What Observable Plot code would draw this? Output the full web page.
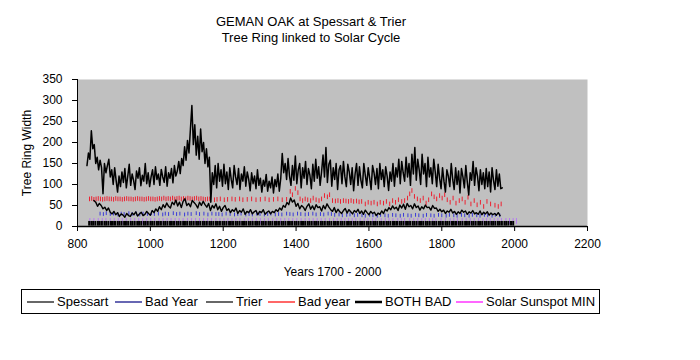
<!DOCTYPE html>
<html>
<head>
<meta charset="utf-8">
<script src="https://cdn.jsdelivr.net/npm/d3@7"></script>
<script src="https://cdn.jsdelivr.net/npm/@observablehq/plot@0.6"></script>
<style>
  html, body { margin: 0; padding: 0; background: #fff; }
  body { width: 700px; height: 360px; position: relative; overflow: hidden;
         font-family: Arial, "Liberation Sans", sans-serif; color: #000; }
  #title { position: absolute; left: 0; top: 14px; width: 622px; text-align: center;
           font-size: 13px; line-height: 16px; }
  #chart { position: absolute; left: 0; top: 0; }
  #legend { position: absolute; left: 21px; top: 289px; width: 577px; height: 23px;
            border: 1px solid #000; font-size: 13px; }
  .item { position: absolute; top: 0; height: 23px; display: flex; align-items: center; white-space: nowrap; }
  .item svg { margin-right: 3px; }
</style>
</head>
<body>
<div id="title">GEMAN OAK at Spessart &amp; Trier<br>Tree Ring linked to Solar Cycle</div>
<div id="chart"></div>
<div id="legend"></div>
<script>
// ---- data ----
const xTicks = [800, 1000, 1200, 1400, 1600, 1800, 2000, 2200];
const yTicks = [0, 50, 100, 150, 200, 250, 300, 350];

// Spessart ring width, one value every 4 years from 826
const spessartFirstYear = 826;
const spessartValues = [
  145,175,160,228,185,195,150,165,135,158,140,78,150,128,145,160,118,135,100,140,110,82,120,95,130,
  105,138,92,120,148,98,125,110,88,132,115,140,97,122,108,150,102,128,95,118,135,100,142,112,125,
  98,136,118,105,142,96,128,115,138,104,145,120,132,155,126,162,145,190,158,205,175,232,288,195,242,
  170,215,160,232,178,200,150,185,142,165,58,128,100,145,92,150,108,135,96,148,102,130,88,140,112,
  92,145,118,100,138,88,125,108,142,96,130,112,85,128,102,120,90,135,98,115,82,110,96,124,84,
  108,92,118,80,112,95,125,84,115,174,128,150,112,162,120,98,145,110,168,102,135,150,92,140,115,
  155,100,138,122,90,148,108,160,115,142,98,130,170,118,188,105,148,158,96,140,112,150,88,135,145,
  102,155,118,95,148,130,100,140,85,125,150,98,142,110,92,150,122,98,140,115,88,145,128,100,138,
  90,150,112,135,95,142,120,86,130,108,150,96,140,118,160,102,155,128,108,165,118,150,98,172,125,
  188,110,160,135,100,172,125,150,95,165,118,140,102,160,130,95,148,115,90,140,108,82,135,120,95,
  150,112,88,140,100,132,80,138,118,92,145,106,75,128,110,155,98,140,120,85,135,100,128,90,138,
  95,130,82,140,110,88,135,96,125,90,92
];

// Trier ring width, one value every 5 years from 845
const trierFirstYear = 845;
const trierValues = [
  62,58,48,55,50,42,46,38,44,34,30,36,28,33,24,30,27,22,31,26,
  24,32,28,35,25,30,34,26,29,36,31,27,38,33,42,36,47,40,52,45,
  56,48,44,58,52,63,49,58,45,60,66,50,55,47,62,57,52,44,58,50,
  60,52,46,55,38,50,44,54,40,48,36,45,50,38,42,33,40,36,44,31,
  38,34,42,29,36,33,40,30,35,38,28,36,33,40,29,34,37,30,36,33,
  40,36,44,39,50,46,57,52,68,58,63,48,55,42,50,46,38,48,54,41,
  49,40,52,45,47,37,50,42,54,46,40,36,45,33,41,35,31,38,43,32,
  40,35,30,38,34,41,31,37,29,39,33,28,36,31,34,26,32,29,37,31,
  41,37,45,40,49,42,46,38,51,44,53,41,55,47,50,42,54,45,49,39,
  47,42,51,45,46,39,50,43,44,36,41,35,39,31,37,34,41,32,36,29,
  35,31,39,34,37,29,35,32,38,30,33,29,37,28,34,30,35,27,32,28,
  31,27,33,26
];

// Bad year (Trier) markers: years and marker top value
const trierBadYears = [
  833,839,845,851,857,863,869,875,881,887,893,899,905,911,917,923,929,935,941,947,
  953,959,965,971,977,983,989,995,1001,1007,1013,1019,1025,1031,1037,1043,1049,1055,1061,1067,
  1073,1079,1085,1091,1097,1103,1109,1115,1121,1127,1133,1139,1145,1151,1157,1163,1176,1183,1192,1203,
  1212,1224,1233,1245,1254,1266,1278,1290,1302,1315,1326,1338,1350,1362,1374,
  1384,1390,1398,1405,1411,1418,1425,1432,1440,1447,1455,1463,1470,1478,1486,1492,1500,1508,1515,1522,
  1530,1537,1544,1551,1558,1566,1573,1580,1590,1598,1606,1614,1623,1631,1640,1648,1657,1665,1673,1681,
  1690,1698,1706,1712,1718,1725,1733,1741,1749,1757,1764,1772,1779,1786,1794,1801,1808,1815,1823,1831,
  1839,1848,1856,1864,1872,1880,1889,1897,1906,1915,1924,1934,1946,1955,1963
];
const trierBadTops = [
  70,71,69,70,71,70,69,70,71,70,70,69,71,70,70,69,70,71,70,70,
  69,70,71,70,70,69,70,71,70,70,69,70,71,70,72,70,71,70,72,70,
  71,72,70,71,70,72,71,70,71,72,70,71,70,69,70,70,68,69,70,68,
  69,70,69,70,68,69,70,68,69,70,68,69,70,68,69,
  88,80,95,85,70,66,70,68,66,72,68,66,70,78,75,80,66,65,66,64,
  66,65,64,66,64,65,63,64,58,62,60,62,58,62,60,64,58,66,62,68,
  64,66,72,82,90,76,70,66,72,60,68,82,75,70,78,72,80,68,62,72,
  60,66,70,62,74,58,66,56,62,52,64,58,55,52,58
];

// Bad Year (Spessart) markers
const spessartBadYears = [
  862,871,879,890,899,911,920,928,941,950,962,971,980,992,1003,1011,1022,1034,1041,1050,
  1063,1072,1081,1094,1103,1112,1126,1135,1147,1158,1169,1180,1188,1197,1208,1219,1231,1240,1249,1262,
  1271,1280,1292,1301,1313,1322,1331,1343,1352,1361,1374,1383,1392,1404,1413,1425,1434,1446,1455,1467,
  1476,1488,1497,1506,1518,1527,1539,1548,1560,1569,1581,1590,1602,1611,1623,1632,1644,1653,1665,1674,
  1686,1695,1707,1716,1728,1737,1749,1758,1770,1779,1791,1800,1812,1821,1833,1842,1854,1863,1875,1884,
  1896,1905,1917,1926,1938,1947,1959
];
const spessartBadTops = [
  34,33,35,33,34,32,34,33,35,33,34,32,34,33,35,33,34,32,34,33,
  35,33,34,32,34,33,35,33,34,32,34,33,33,32,34,33,32,33,34,32,
  33,32,34,33,32,33,34,32,33,32,34,33,32,34,33,32,33,34,32,33,
  32,34,33,31,32,30,31,32,30,31,30,29,31,30,29,31,30,29,31,30,
  29,31,30,29,31,30,29,31,30,29,31,30,29,31,30,29,31,30,29,31,
  30,29,31,30,29,31,30
];

// BOTH BAD years
const bothBadYears = [
  832,838,843,849,856,861,867,874,879,885,892,897,903,910,915,921,928,933,939,946,
  951,957,964,969,975,982,987,993,1000,1005,1011,1018,1023,1029,1036,1041,1047,1054,1059,1065,
  1072,1077,1083,1090,1095,1101,1108,1113,1119,1126,1131,1137,1144,1149,1155,1162,1167,1173,1180,1185,
  1191,1198,1203,1209,1216,1221,1227,1234,1239,1245,1252,1257,1263,1270,1275,1281,1288,1293,1299,1306,
  1311,1317,1324,1329,1335,1342,1347,1353,1360,1365,1371,1378,1383,1389,1396,1401,1407,1414,1419,1425,
  1432,1437,1443,1450,1455,1461,1468,1473,1479,1486,1491,1497,1504,1509,1515,1522,1527,1533,1540,1545,
  1551,1558,1563,1569,1576,1581,1587,1594,1599,1605,1612,1617,1623,1630,1635,1641,1648,1653,1659,1666,
  1671,1677,1684,1689,1695,1702,1707,1713,1720,1725,1731,1738,1743,1749,1756,1761,1767,1774,1779,1785,
  1792,1797,1803,1810,1815,1821,1828,1833,1839,1846,1851,1857,1864,1869,1875,1882,1887,1893,1900,1905,
  1911,1918,1923,1929,1936,1941,1947,1954,1959,1965,1972,1977,1983,1990,1996
];

// Solar sunspot minimum years
const solarMinYears = [
  834,845,857,868,878,890,901,912,923,934,946,957,968,979,990,1001,1012,1024,1035,1046,
  1057,1068,1079,1090,1102,1113,1124,1135,1146,1157,1168,1180,1191,1202,1213,1224,1235,1246,1258,1269,
  1280,1291,1302,1313,1324,1336,1347,1358,1369,1380,1391,1402,1414,1425,1436,1447,1458,1469,1480,1492,
  1503,1513,1524,1534,1544,1554,1564,1576,1587,1597,1610,1619,1634,1645,1655,1666,1679,1689,1698,1712,
  1723,1734,1745,1755,1766,1775,1784,1798,1810,1823,1833,1843,1856,1867,1878,1889,1901,1913,1923,1933,
  1944,1954,1964,1976,1986,1996,2005
];

// ---- tables for Plot ----
const spessart = spessartValues.map((v, i) => ({year: spessartFirstYear + 4 * i, value: v}));
const trier = trierValues.map((v, i) => ({year: trierFirstYear + 5 * i, value: v}));
const trierBad = trierBadYears.map((y, i) => ({year: y, top: trierBadTops[i]}));
const spessartBad = spessartBadYears.map((y, i) => ({year: y, top: spessartBadTops[i]}));

const FONT = 'Arial, "Liberation Sans", sans-serif';

const chart = Plot.plot({
  width: 700,
  height: 290,
  marginTop: 79,
  marginBottom: 64,
  marginLeft: 77,
  marginRight: 113,
  style: {fontFamily: FONT, fontSize: "12px", background: "transparent", color: "#000"},
  x: {domain: [800, 2200]},
  y: {domain: [0, 350]},
  marks: [
    Plot.frame({fill: "#c0c0c0", stroke: "none"}),
    Plot.ruleX(solarMinYears, {x: d => d, y1: 5, y2: 19, stroke: "#b57cf0", strokeWidth: 1}),
    Plot.ruleX(spessartBad, {x: "year", y1: d => d.top - 9, y2: "top", stroke: "#3a3ad8", strokeWidth: 1}),
    Plot.ruleX(trierBad, {x: "year", y1: d => d.top - 11, y2: "top", stroke: "#ee2030", strokeWidth: 1}),
    Plot.line(trier, {x: "year", y: "value", stroke: "#000", strokeWidth: 1.4}),
    Plot.line(spessart, {x: "year", y: "value", stroke: "#000", strokeWidth: 1.5}),
    Plot.ruleX(bothBadYears, {x: d => d, y1: 1, y2: 12, stroke: "#000", strokeWidth: 2}),
    Plot.ruleY([0], {stroke: "#000", strokeWidth: 1.5}),
    Plot.ruleX([800], {stroke: "#000", strokeWidth: 1}),
    Plot.axisX({ticks: xTicks, tickFormat: d => String(d), tickSize: 5, tickPadding: 8,
                fontSize: 12, label: "Years 1700 - 2000", labelAnchor: "center",
                labelArrow: "none", labelOffset: 49}),
    Plot.axisY({ticks: yTicks, tickFormat: d => String(d), tickSize: 5, tickPadding: 10,
                fontSize: 12, label: "Tree Ring Width", labelAnchor: "center",
                labelArrow: "none", labelOffset: 55})
  ]
});
document.getElementById("chart").appendChild(chart);

// ---- legend ----
const legendItems = [
  {label: "Spessart", color: "#000000", width: 1, left: 5},
  {label: "Bad Year", color: "#000080", width: 1, left: 93},
  {label: "Trier", color: "#000000", width: 1, left: 184},
  {label: "Bad year", color: "#ff0000", width: 1, left: 246},
  {label: "BOTH BAD", color: "#000000", width: 2, left: 333},
  {label: "Solar Sunspot MIN", color: "#ff00ff", width: 1, left: 434}
];
const legend = document.getElementById("legend");
const NS = "http://www.w3.org/2000/svg";
for (const it of legendItems) {
  const item = document.createElement("div");
  item.className = "item";
  item.style.left = it.left + "px";
  const svg = document.createElementNS(NS, "svg");
  svg.setAttribute("width", 27);
  svg.setAttribute("height", 6);
  const ln = document.createElementNS(NS, "line");
  ln.setAttribute("x1", 0); ln.setAttribute("x2", 27);
  ln.setAttribute("y1", 3); ln.setAttribute("y2", 3);
  ln.setAttribute("stroke", it.color);
  ln.setAttribute("stroke-width", it.width === 2 ? 2.5 : 1.2);
  svg.appendChild(ln);
  item.appendChild(svg);
  item.appendChild(document.createTextNode(it.label));
  legend.appendChild(item);
}
</script>
</body>
</html>
